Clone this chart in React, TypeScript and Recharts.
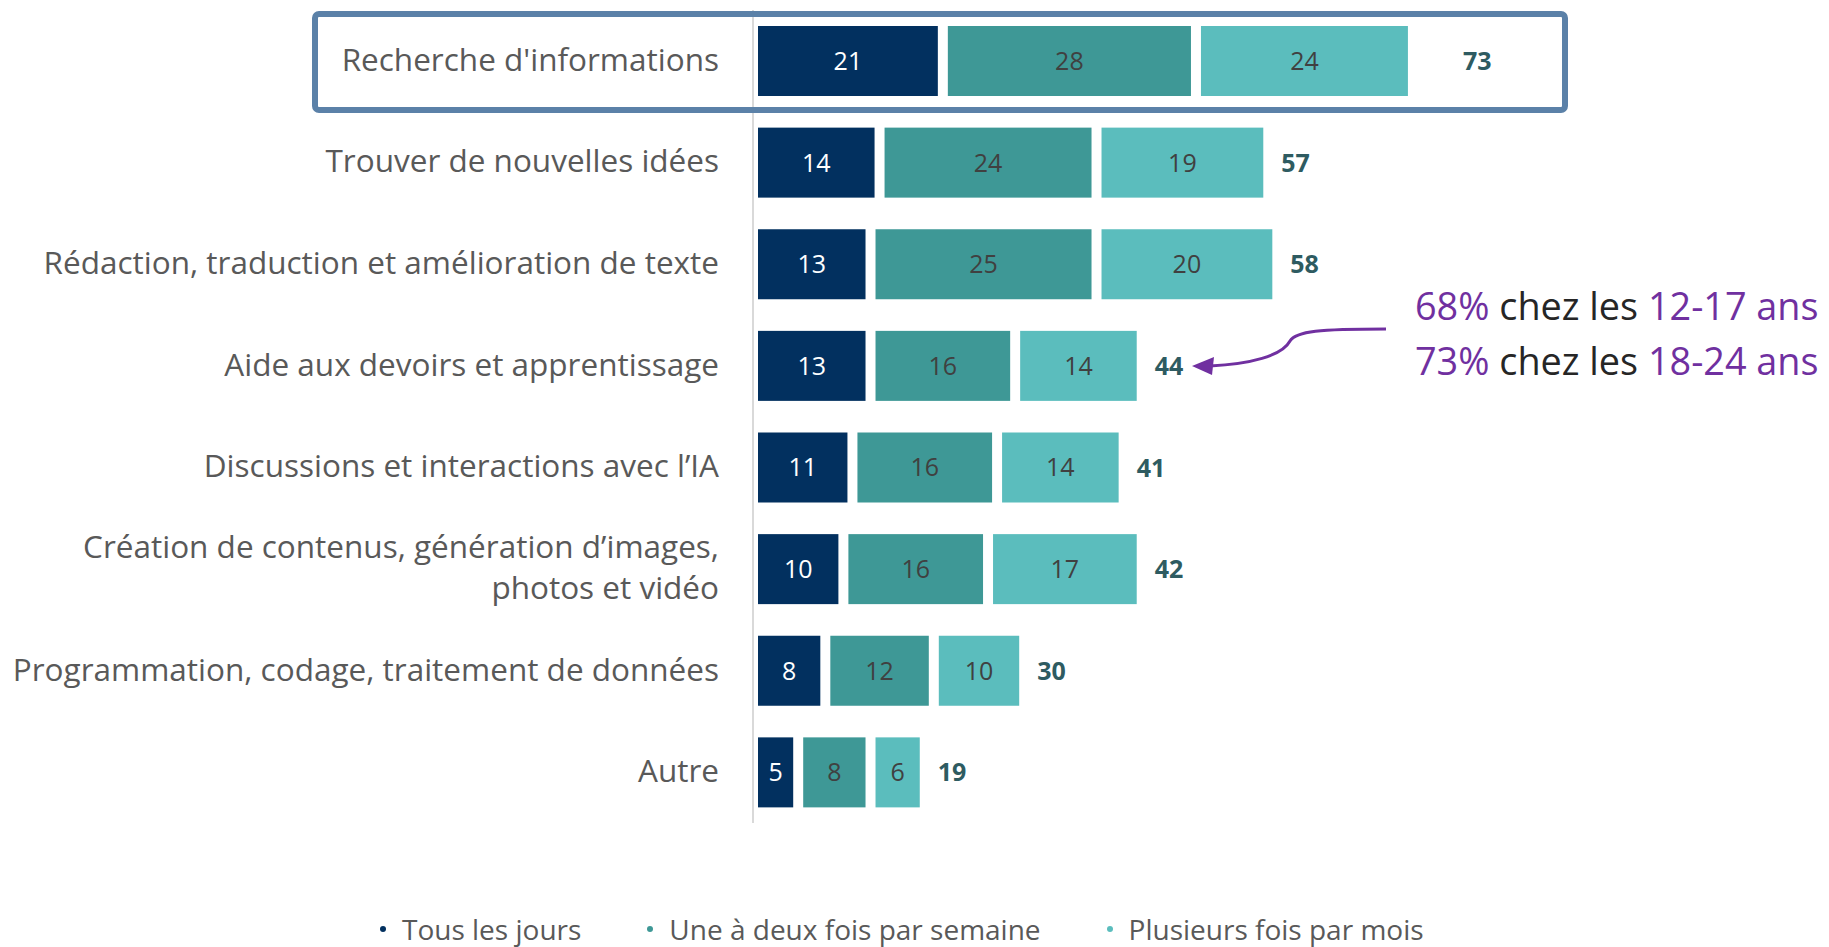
import React from 'react';
import { BarChart, Bar, XAxis, YAxis, LabelList, Legend } from 'recharts';

// Usages of AI, share of respondents (%)
const categories = [
  "Recherche d'informations",
  'Trouver de nouvelles idées',
  'Rédaction, traduction et amélioration de texte',
  'Aide aux devoirs et apprentissage',
  'Discussions et interactions avec l’IA',
  'Création de contenus, génération d’images, photos et vidéo',
  'Programmation, codage, traitement de données',
  'Autre',
];
const daily = [21, 14, 13, 13, 11, 10, 8, 5];
const weekly = [28, 24, 25, 16, 16, 16, 12, 8];
const monthly = [24, 19, 20, 14, 14, 17, 10, 6];
const totals = [73, 57, 58, 44, 41, 42, 30, 19];

const seriesNames = ['Tous les jours', 'Une à deux fois par semaine', 'Plusieurs fois par mois'];
const seriesColors = ['#02305f', '#3e9896', '#5bbdbd'];

const data = categories.map((name, i) => ({
  name,
  daily: daily[i],
  weekly: weekly[i],
  monthly: monthly[i],
  total: totals[i],
}));

const FONT = '"Open Sans", Lato, sans-serif';

// bars are separated by a small white gap
const GapBar = (props: any) => {
  const { x, y, width, height, fill } = props;
  if (!width || width <= 0) return null;
  return <rect x={x + 5} y={y} width={Math.max(width - 10, 0)} height={height} fill={fill} />;
};

const CategoryTick = (props: any) => {
  const { x, y, payload } = props;
  const label: string = payload.value;
  let lines = [label];
  if (label.length > 50) {
    const cut = label.lastIndexOf(', ') + 1;
    lines = [label.slice(0, cut), label.slice(cut + 1)];
  }
  const lh = 41;
  const start = -((lines.length - 1) * lh) / 2;
  return (
    <text x={x} y={y} textAnchor="end" fill="#595959" fontSize={31.5}>
      {lines.map((l, i) => (
        <tspan key={i} x={x} dy={i === 0 ? start + 10 : lh}>
          {l}
        </tspan>
      ))}
    </text>
  );
};

const TotalLabel = (props: any) => {
  const { x, y, width, height, value, index } = props;
  const off = index === 0 ? 50 : 13;
  return (
    <text
      x={x + width + off}
      y={y + height / 2}
      dy={9}
      fill="#2e5b61"
      fontSize={25}
      fontWeight={700}
    >
      {value}
    </text>
  );
};

const LegendContent = () => (
  <div
    style={{
      height: 32,
      lineHeight: '32px',
      display: 'flex',
      alignItems: 'center',
      paddingLeft: 380,
      fontFamily: FONT,
      fontSize: 28,
      color: '#595959',
    }}
  >
    {seriesNames.map((n, i) => (
      <div key={n} style={{ display: 'flex', alignItems: 'center', marginRight: 66 }}>
        <span
          style={{
            width: 6,
            height: 6,
            borderRadius: 3,
            background: seriesColors[i],
            marginRight: 16,
          }}
        />
        {n}
      </div>
    ))}
  </div>
);

const App: React.FC = () => {
  return (
    <div
      style={{
        position: 'absolute',
        left: 0,
        top: 0,
        width: 1829,
        height: 947,
        background: '#fff',
        fontFamily: FONT,
      }}
    >
      <BarChart
        width={1829}
        height={947}
        data={data}
        layout="vertical"
        margin={{ top: 10, right: 172, left: 0, bottom: 92 }}
        barSize={70}
      >
        <XAxis type="number" domain={[0, 100]} hide />
        <YAxis
          type="category"
          dataKey="name"
          width={753}
          axisLine={{ stroke: '#d9d9d9', strokeWidth: 2 }}
          tickLine={false}
          tickSize={0}
          tickMargin={34}
          tick={<CategoryTick />}
          interval={0}
        />
        <Legend
          verticalAlign="bottom"
          content={<LegendContent />}
          wrapperStyle={{ left: 0, bottom: 2, width: 1829, height: 32 }}
        />
        <Bar dataKey="daily" stackId="a" fill={seriesColors[0]} shape={<GapBar />} isAnimationActive={false}>
          <LabelList dataKey="daily" position="center" fill="#ffffff" fontSize={25} />
        </Bar>
        <Bar dataKey="weekly" stackId="a" fill={seriesColors[1]} shape={<GapBar />} isAnimationActive={false}>
          <LabelList dataKey="weekly" position="center" fill="#404040" fontSize={25} />
        </Bar>
        <Bar dataKey="monthly" stackId="a" fill={seriesColors[2]} shape={<GapBar />} isAnimationActive={false}>
          <LabelList dataKey="monthly" position="center" fill="#404040" fontSize={25} />
          <LabelList dataKey="total" content={<TotalLabel />} />
        </Bar>
      </BarChart>

      {/* highlight box + annotation */}
      <svg
        width={1829}
        height={947}
        style={{ position: 'absolute', left: 0, top: 0, pointerEvents: 'none' }}
      >
        <rect x={315} y={14} width={1250} height={96} rx={4} fill="none" stroke="#5b81a8" strokeWidth={6} />
        <path
          d="M1386,329 C1320,329 1296,331 1290,341 C1282,356 1250,364 1210,366"
          fill="none"
          stroke="#7030a0"
          strokeWidth={3}
        />
        <polygon points="1192,366 1214,357 1212,375" fill="#7030a0" />
        <text x={1415} y={320} fontSize={37.8} fill="#262626">
          <tspan fill="#7030a0">68%</tspan> chez les <tspan fill="#7030a0">12-17 ans</tspan>
        </text>
        <text x={1415} y={375} fontSize={37.8} fill="#262626">
          <tspan fill="#7030a0">73%</tspan> chez les <tspan fill="#7030a0">18-24 ans</tspan>
        </text>
      </svg>
    </div>
  );
};

export default App;
